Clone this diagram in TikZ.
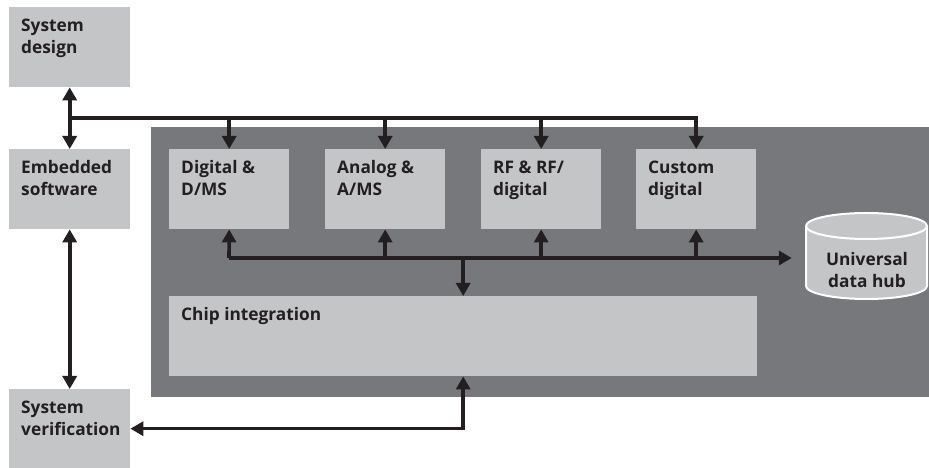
\documentclass[tikz,border=0pt]{standalone}
\usepackage{fontspec}
\setmainfont{Open Sans}
\usetikzlibrary{arrows.meta}
\definecolor{boxgrey}{HTML}{C4C5C7}
\definecolor{darkgrey}{HTML}{77787B}
\definecolor{ink}{HTML}{231F20}
\begin{document}
\begin{tikzpicture}[x=1pt,y=1pt,
  box/.style={fill=boxgrey, draw=none, anchor=north west, inner sep=0pt, minimum width=121pt, minimum height=80pt},
  txt/.style={anchor=base west, inner sep=0pt, align=left, text=ink, font=\fontsize{17.3}{22}\selectfont\bfseries},
  conn/.style={draw=ink, line width=3.6pt},
  tip/.tip={Triangle[length=13pt,width=14pt]},
  arr/.style={conn, -tip},
  darr/.style={conn, tip-tip}]
\useasboundingbox (0,0) rectangle (929,468);
% background panel
\fill[darkgrey] (151,71) rectangle (929,341);
% left column
\node[box] (sd) at (9,461) {};
\node[box] (es) at (9,319) {};
\node[box, minimum height=79pt] (sv) at (9,79) {};
\node[txt] (sdt) at ([xshift=12pt,yshift=-47pt]sd.north west) {System\\design};
\node[txt] (est) at ([xshift=12pt,yshift=-47pt]es.north west) {Embedded\\software};
\node[txt] (svt) at ([xshift=12pt,yshift=-47pt]sv.north west) {System\\verification};
% tool boxes
\node[box, minimum width=120pt] (d1) at (169,319) {};
\node[box, minimum width=120pt] (d2) at (325,319) {};
\node[box, minimum width=120pt] (d3) at (481,319) {};
\node[box, minimum width=120pt] (d4) at (636,319) {};
\node[txt] (d1t) at ([xshift=12pt,yshift=-46.5pt]d1.north west) {Digital \&\\D/MS};
\node[txt] (d2t) at ([xshift=12pt,yshift=-46.5pt]d2.north west) {Analog \&\\A/MS};
\node[txt] (d3t) at ([xshift=12pt,yshift=-46.5pt]d3.north west) {RF \& RF/\\digital};
\node[txt] (d4t) at ([xshift=12pt,yshift=-46.5pt]d4.north west) {Custom\\digital};
% chip integration
\node[box, minimum width=588pt] (chip) at (169,172) {};
\node[txt] (chipt) at ([xshift=12pt,yshift=-24.5pt]chip.north west) {Chip integration};
% universal data hub (cylinder)
\node[inner sep=0pt, minimum width=121pt, minimum height=86pt] (hub) at (866.5,212) {};
\path[fill=boxgrey, draw=white, line width=2pt]
  (806,242) -- (806,182) arc[start angle=180, end angle=360, x radius=60.5pt, y radius=13pt]
  -- (927,242) arc[start angle=0, end angle=180, x radius=60.5pt, y radius=13pt] -- cycle;
\draw[white, line width=2pt] (806,242) arc[start angle=180, end angle=360, x radius=60.5pt, y radius=13pt];
\node[txt, anchor=base, align=center] (hubt) at (867,180) {Universal\\data hub};
% connectors: top bus
\coordinate (tl) at (69.5,350);
\draw[darr] (sd.south) -- (es.north);
\draw[arr] (tl) -| (d4.north);
\draw[arr] (d1.north |- tl) -- (d1.north);
\draw[arr] (d2.north |- tl) -- (d2.north);
\draw[arr] (d3.north |- tl) -- (d3.north);
% lower bus
\coordinate (bl) at (229,210);
\draw[arr, shorten >=14pt] (bl) -- (bl -| hub.west);
\draw[arr] (bl) -- (d1.south);
\draw[arr] (d2.south |- bl) -- (d2.south);
\draw[arr] (d3.south |- bl) -- (d3.south);
\draw[arr] (d4.south |- bl) -- (d4.south);
\draw[arr] (chip.north |- bl) -- (chip.north);
% left verification links
\draw[darr] (es.south) -- (sv.north);
\draw[darr] (sv.east) -| (chip.south);
\end{tikzpicture}
\end{document}
